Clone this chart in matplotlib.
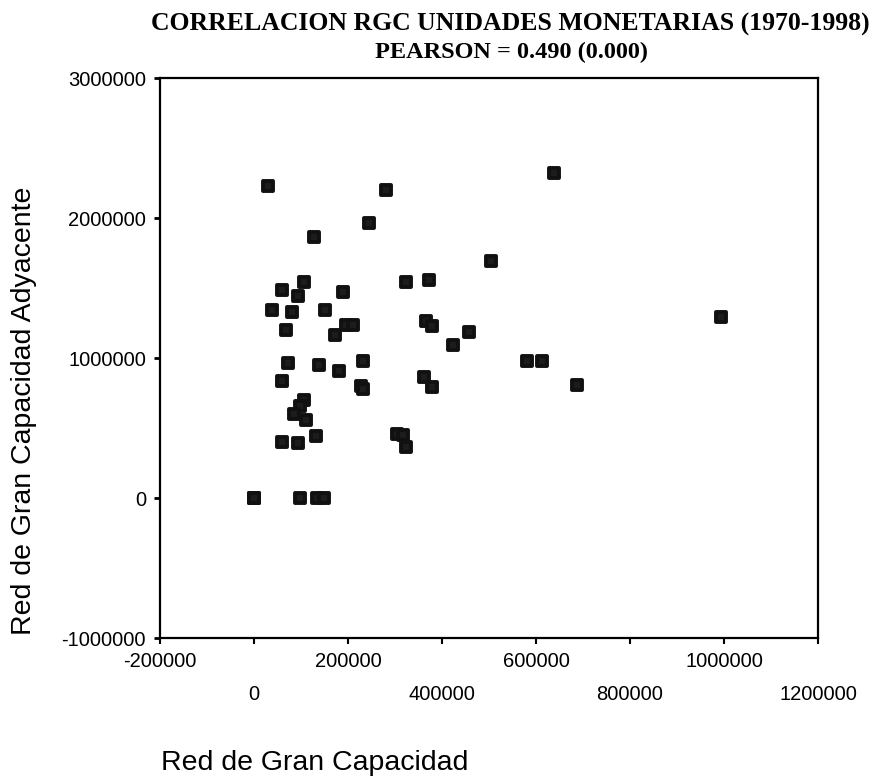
import matplotlib
matplotlib.use("Agg")
import matplotlib.pyplot as plt
from matplotlib.markers import MarkerStyle

# values
rgc = [30000, 281900, 244300, 127200, 503200, 106000, 59800, 93800, 189600, 323000,
       372600, 38500, 81100, 152100, 67700, 196400, 210200, 173400, 367000, 378900,
       457700, 423600, 72600, 138500, 181100, 231500, 59800, 227200, 231500, 361300,
       378300, 106000, 97400, 85300, 109600, 131500, 59800, 93800, 304500, 317200,
       323000, 0, 0, 0, 97400, 134300, 149100, 637900, 579800, 612300,
       687400, 993200]
rgc_ady = [2230000, 2200000, 1962000, 1862000, 1695000, 1541000, 1486000, 1443000, 1469000, 1541000,
           1557000, 1343000, 1331000, 1343000, 1200000, 1234000, 1234000, 1164000, 1264000, 1231000,
           1189000, 1093000, 966000, 952000, 909000, 981000, 838000, 800000, 782000, 866000,
           795000, 700000, 657000, 600000, 557000, 445000, 402000, 391000, 457000, 448000,
           362000, 0, 0, 0, 0, 0, 0, 2324000, 979000, 979000,
           809000, 1291000]

x_top_ticks = [-200000, 200000, 600000, 1000000]
x_bottom_ticks = [0, 400000, 800000, 1200000]
y_ticks = [-1000000, 0, 1000000, 2000000, 3000000]

fig = plt.figure(figsize=(8.79, 7.8), dpi=100)
ax = fig.add_axes([160 / 879, 1 - 638 / 780, 658 / 879, 560 / 780])

# rounded dark squares like the original markers
mk = MarkerStyle('s', joinstyle='round')
ax.plot(rgc, rgc_ady, linestyle='none', marker=mk, markersize=6.8,
        markerfacecolor='#1c1c1c', markeredgecolor='#111111', markeredgewidth=2.8)

ax.set_xlim(-200000, 1200000)
ax.set_ylim(-1000000, 3000000)

# staggered x labels: two rows
ax.set_xticks(x_top_ticks)
ax.set_xticklabels([str(v) for v in x_top_ticks])
ax.set_xticks(x_bottom_ticks, minor=True)
ax.set_xticklabels([str(v) for v in x_bottom_ticks], minor=True)
ax.set_yticks(y_ticks)
ax.set_yticklabels([str(v) for v in y_ticks])

ax.tick_params(axis='x', which='major', direction='out', length=4, width=1.5,
               pad=6, labelsize=14.5)
ax.tick_params(axis='x', which='minor', direction='out', length=4, width=1.5,
               pad=30, labelsize=14.5)
ax.tick_params(axis='y', direction='out', length=4, width=2, pad=6, labelsize=14.5)
for lab in ax.get_xticklabels() + ax.get_xticklabels(minor=True) + ax.get_yticklabels():
    lab.set_fontfamily('Liberation Sans')

for sp in ax.spines.values():
    sp.set_linewidth(1.6)
    sp.set_color('black')

fig.text(510 / 879, 1 - 31 / 780, 'CORRELACION RGC UNIDADES MONETARIAS (1970-1998)',
         ha='center', va='baseline', fontsize=18.5, fontweight='bold',
         family='Liberation Serif')
fig.text(512 / 879, 1 - 58 / 780, 'PEARSON = 0.490 (0.000)',
         ha='center', va='baseline', fontsize=17.5, fontweight='bold',
         family='Liberation Serif')

fig.text(37 / 879, 1 - 635 / 780, 'Red de Gran Capacidad Adyacente', rotation=90,
         ha='right', va='bottom', fontsize=20.5, family='Liberation Sans')
fig.text(161 / 879, 1 - 770 / 780, 'Red de Gran Capacidad',
         ha='left', va='baseline', fontsize=20.5, family='Liberation Sans')

fig.savefig('out.png', dpi=100)
